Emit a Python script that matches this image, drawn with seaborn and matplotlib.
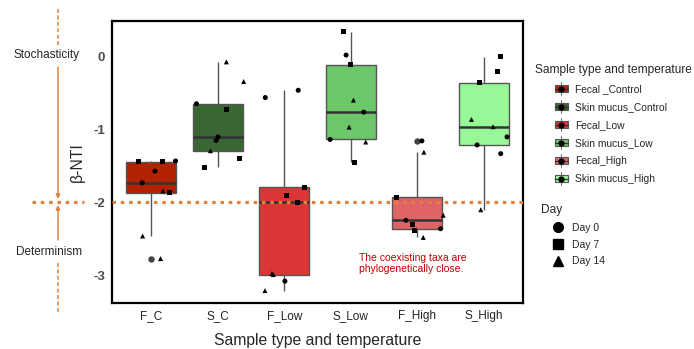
import pandas as pd
import seaborn as sns
import matplotlib.pyplot as plt
from matplotlib.lines import Line2D
from matplotlib.patches import Rectangle, Patch
from matplotlib.legend_handler import HandlerBase

# beta-NTI values, per group
groups = ["F_C", "S_C", "F_Low", "S_Low", "F_High", "S_High"]
group_names = ["Fecal _Control", "Skin mucus_Control", "Fecal_Low",
               "Skin mucus_Low", "Fecal_High", "Skin mucus_High"]
box_colors = ["#B22200", "#3A6634", "#DD3535", "#6CC66A", "#E06466", "#98F898"]

f_c = [-1.44, -1.44, -1.43, -1.57, -1.73, -1.84, -1.87, -2.46, -2.77]
f_c_day = ["Day 7", "Day 7", "Day 0", "Day 0", "Day 0", "Day 14", "Day 7", "Day 14", "Day 14"]
f_c_jit = [-0.185, 0.17, 0.365, 0.056, -0.135, 0.176, 0.275, -0.13, 0.14]

s_c = [-0.07, -0.34, -0.645, -0.73, -1.10, -1.15, -1.29, -1.40, -1.515]
s_c_day = ["Day 14", "Day 14", "Day 0", "Day 7", "Day 0", "Day 0", "Day 14", "Day 7", "Day 7"]
s_c_jit = [0.13, 0.39, -0.32, 0.135, 0.005, -0.025, -0.11, 0.33, -0.205]

f_low = [-0.56, -0.46, -1.79, -1.91, -2.0, -2.975, -2.99, -3.08, -3.21]
f_low_day = ["Day 0", "Day 0", "Day 7", "Day 7", "Day 7", "Day 14", "Day 14", "Day 0", "Day 14"]
f_low_jit = [-0.285, 0.21, 0.305, 0.03, 0.2, -0.185, -0.165, 0.01, -0.29]

s_low = [0.34, 0.023, -0.11, -0.595, -0.76, -0.965, -1.135, -1.17, -1.45]
s_low_day = ["Day 7", "Day 0", "Day 7", "Day 14", "Day 0", "Day 14", "Day 0", "Day 14", "Day 7"]
s_low_jit = [-0.11, -0.07, 0.0, 0.04, 0.195, -0.025, -0.31, 0.225, 0.05]

f_high = [-1.155, -1.31, -1.93, -2.175, -2.245, -2.30, -2.36, -2.39, -2.48]
f_high_day = ["Day 0", "Day 14", "Day 7", "Day 14", "Day 0", "Day 7", "Day 0", "Day 7", "Day 14"]
f_high_jit = [0.07, 0.10, -0.305, 0.39, -0.17, -0.065, 0.35, -0.045, 0.09]

s_high = [0.0, -0.20, -0.36, -0.86, -0.96, -1.10, -1.21, -1.33, -2.10]
s_high_day = ["Day 7", "Day 7", "Day 7", "Day 14", "Day 14", "Day 0", "Day 0", "Day 0", "Day 14"]
s_high_jit = [0.245, 0.20, -0.07, -0.185, 0.14, 0.35, -0.10, 0.255, -0.045]

days = ["Day 0", "Day 7", "Day 14"]
day_markers = {"Day 0": "o", "Day 7": "s", "Day 14": "^"}

rows = []
for i, (vals, dd, jj) in enumerate([(f_c, f_c_day, f_c_jit), (s_c, s_c_day, s_c_jit),
                                     (f_low, f_low_day, f_low_jit), (s_low, s_low_day, s_low_jit),
                                     (f_high, f_high_day, f_high_jit), (s_high, s_high_day, s_high_jit)]):
    for v, d, j in zip(vals, dd, jj):
        rows.append({"group": groups[i], "value": v, "day": d, "xpos": i + j})
df = pd.DataFrame(rows)

sns.set_style("white")
plt.rcParams["font.family"] = ["Liberation Sans", "DejaVu Sans"]

W, H = 694, 349
orange = "#E0823D"


def fx(x):
    return x / W


def fy(y):
    return 1 - y / H


fig = plt.figure(figsize=(W / 100, H / 100), dpi=100)
ax = fig.add_axes([fx(112), fy(303), (523 - 112) / W, (303 - 20.7) / H])

sns.boxplot(data=df, x="group", y="value", hue="group", order=groups,
            hue_order=groups, palette=box_colors, saturation=1, width=0.75,
            linewidth=1, linecolor="#555555", showcaps=False, fliersize=3.6,
            flierprops=dict(marker="o", markerfacecolor="#444444",
                            markeredgecolor="#444444"),
            medianprops=dict(color="#333333", linewidth=1.8),
            legend=False, ax=ax)

ax.axhline(-2, color=orange, lw=2.3, ls=(0, (1.1, 1.5)), zorder=3)

sns.scatterplot(data=df, x="xpos", y="value", style="day", style_order=days,
                markers=day_markers, color="black", s=13, linewidth=0,
                legend=False, ax=ax, zorder=4)

ax.set_xlim(-0.59, 5.59)
ax.set_ylim(-3.38, 0.495)
ax.set_xticks(range(len(groups)))
ax.set_xticklabels(groups, fontsize=8.5, color="#222222")
ax.set_yticks([0, -1, -2, -3])
ax.set_yticklabels(["0", "-1", "-2", "-3"], fontsize=9.5, fontweight="bold",
                   color="#4D4D4D")
ax.tick_params(axis="both", length=3, width=0.8, color="#333333", pad=2)
ax.set_xlabel("Sample type and temperature", fontsize=11.3, labelpad=8)
ax.set_ylabel("β-NTI", fontsize=11.3, labelpad=6)
for s in ax.spines.values():
    s.set_linewidth(1.6)
    s.set_color("black")

# red note inside the panel
fig.text(fx(359), fy(263.5), "The coexisting taxa are\nphylogenetically close.",
         color="#C00000", fontsize=7.5, ha="left", va="center", linespacing=1.1)

# left-hand annotation: stochasticity vs determinism
fig.add_artist(Line2D([fx(58), fx(58)], [fy(9), fy(45)], transform=fig.transFigure,
                      color=orange, lw=1.1, ls=(0, (2.6, 1.6))))
fig.add_artist(Line2D([fx(58), fx(58)], [fy(263), fy(312)], transform=fig.transFigure,
                      color=orange, lw=1.1, ls=(0, (2.6, 1.6))))
fig.add_artist(Line2D([fx(32), fx(84)], [fy(202), fy(202)], transform=fig.transFigure,
                      color=orange, lw=2.3, ls=(0, (1.1, 1.5))))
fig.text(fx(47), fy(55), "Stochasticity", fontsize=8.5, ha="center", va="center")
fig.text(fx(49), fy(252), "Determinism", fontsize=8.5, ha="center", va="center")
arrow = dict(arrowstyle="-|>", color=orange, lw=1.1, mutation_scale=6,
             shrinkA=0, shrinkB=0)
ax.annotate("", xy=(fx(58), fy(199)), xytext=(fx(58), fy(67)),
            xycoords="figure fraction", arrowprops=arrow, annotation_clip=False)
ax.annotate("", xy=(fx(58), fy(205)), xytext=(fx(58), fy(240)),
            xycoords="figure fraction", arrowprops=arrow, annotation_clip=False)


class BoxKey(HandlerBase):
    def create_artists(self, legend, orig, xd, yd, w, h, fontsize, trans):
        bw, bh = 9.5, 5.2
        x0 = -xd + w - bw
        y0 = -yd + (h - bh) / 2
        cx, cy = x0 + bw / 2, y0 + bh / 2
        whisk = Line2D([cx, cx], [y0 - 2.2, y0 + bh + 2.2], color="#777777", lw=0.8)
        rect = Rectangle((x0, y0), bw, bh, facecolor=orig.get_facecolor(),
                         edgecolor="#555555", lw=0.8)
        med = Line2D([x0, x0 + bw], [cy, cy], color="#333333", lw=0.9)
        dot = Line2D([cx], [cy], marker="o", ms=3.5, color="black", ls="")
        arts = [whisk, rect, med, dot]
        for a in arts:
            a.set_transform(trans)
        return arts


box_handles = [Patch(facecolor=c) for c in box_colors]
leg1 = ax.legend(box_handles, group_names, title="Sample type and temperature",
                 handler_map={Patch: BoxKey()}, loc="upper left",
                 bbox_to_anchor=(fx(535), fy(64)), bbox_transform=fig.transFigure,
                 frameon=False, fontsize=7.4, title_fontsize=8.6, alignment="left",
                 handlelength=3.2, handleheight=1.0, handletextpad=0.67,
                 labelspacing=0.77, borderpad=0, borderaxespad=0)
ax.add_artist(leg1)

day_handles = [Line2D([], [], marker=day_markers[d], color="black", ls="", ms=7)
               for d in days]
ax.legend(day_handles, days, title="Day", loc="upper left",
          bbox_to_anchor=(fx(541), fy(204)), bbox_transform=fig.transFigure,
          frameon=False, fontsize=7.5, title_fontsize=8.6, alignment="left",
          handlelength=3.3, handletextpad=-0.3, labelspacing=0.65,
          borderpad=0, borderaxespad=0)

fig.savefig("out.png", dpi=100)
